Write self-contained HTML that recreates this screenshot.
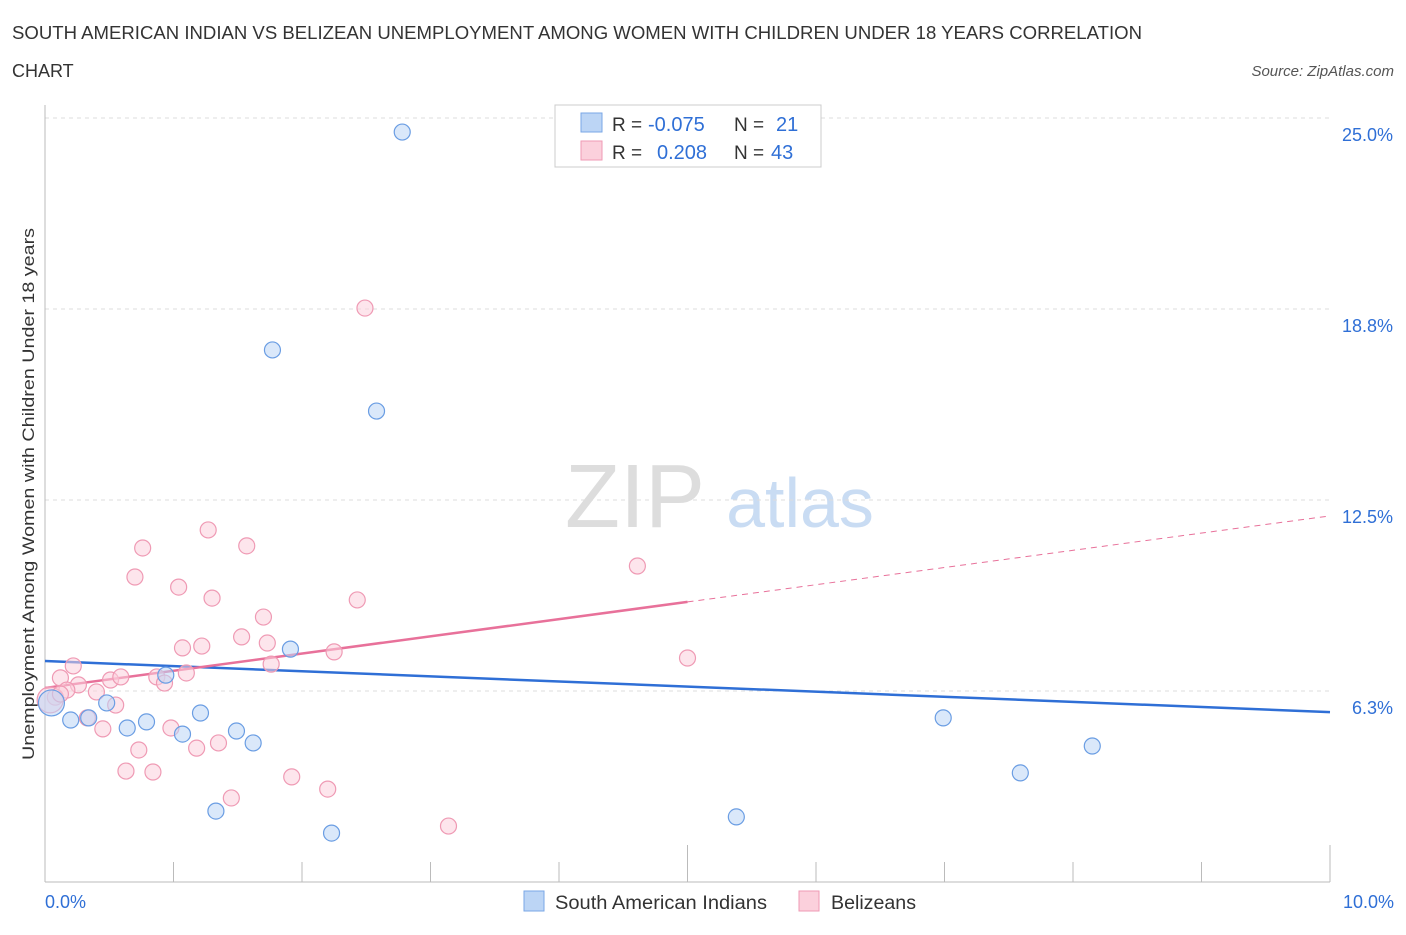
<!DOCTYPE html>
<html><head><meta charset="utf-8"><style>
body{margin:0;background:#fff;font-family:"Liberation Sans",sans-serif;}
svg text{font-family:"Liberation Sans",sans-serif;}
</style></head><body>
<svg width="1406" height="930" xmlns="http://www.w3.org/2000/svg">
<text x="12" y="39" font-size="18" fill="#333" textLength="1130" lengthAdjust="spacingAndGlyphs">SOUTH AMERICAN INDIAN VS BELIZEAN UNEMPLOYMENT AMONG WOMEN WITH CHILDREN UNDER 18 YEARS CORRELATION</text>
<text x="12" y="77" font-size="18" fill="#333">CHART</text>
<text x="1394" y="76" font-size="15" font-style="italic" fill="#555" text-anchor="end">Source: ZipAtlas.com</text>
<text x="635" y="527" font-size="90" font-family="Liberation Serif,serif" fill="#ddd" text-anchor="middle">ZIP</text>
<text x="800" y="527" font-size="70" fill="#c9dcf3" text-anchor="middle">atlas</text>
<g id="grid"></g>
<g id="axes"></g>
<g id="lines"></g>
<g id="pts"></g>
<text x="34" y="494" font-size="17" fill="#333" text-anchor="middle" textLength="532" lengthAdjust="spacingAndGlyphs" transform="rotate(-90 34 494)">Unemployment Among Women with Children Under 18 years</text>
<g>
<rect x="555" y="105" width="266" height="62" fill="#fff" stroke="#ccc"/>
<rect x="581" y="113" width="21" height="19" fill="#bcd5f5" stroke="#7aa7e6"/>
<rect x="581" y="141" width="21" height="19" fill="#fbd0dc" stroke="#ef9ab4"/>
<text x="612" y="131" font-size="19" fill="#333">R = </text><text x="648" y="131" font-size="20" fill="#2f6fd6">-0.075</text>
<text x="734" y="131" font-size="19" fill="#333">N = </text><text x="776" y="131" font-size="20" fill="#2f6fd6">21</text>
<text x="612" y="159" font-size="19" fill="#333">R = </text><text x="657" y="159" font-size="20" fill="#2f6fd6">0.208</text>
<text x="734" y="159" font-size="19" fill="#333">N = </text><text x="771" y="159" font-size="20" fill="#2f6fd6">43</text>
</g>
<g>
<rect x="524" y="891" width="20" height="20" fill="#bcd5f5" stroke="#7aa7e6"/>
<text x="555" y="909" font-size="19" fill="#333" textLength="212" lengthAdjust="spacingAndGlyphs">South American Indians</text>
<rect x="799" y="891" width="20" height="20" fill="#fbd0dc" stroke="#ef9ab4"/>
<text x="831" y="909" font-size="19" fill="#333" textLength="85" lengthAdjust="spacingAndGlyphs">Belizeans</text>
</g>
</svg>
<script>
const blueX=[2.78,1.77,2.58,1.91,0.94,0.48,0.05,0.20,0.34,0.64,0.79,1.07,1.21,1.49,1.62,1.33,2.23,5.38,6.99,7.59,8.15];
const blueY=[24.54,17.41,15.41,7.62,6.77,5.86,5.86,5.30,5.37,5.04,5.24,4.84,5.53,4.94,4.55,2.32,1.60,2.13,5.37,3.57,4.45];
const pinkX=[2.49,1.27,0.76,1.57,0.70,1.04,1.30,2.43,4.61,1.70,1.53,1.73,1.07,1.22,2.25,1.76,5.00,0.22,1.10,0.87,0.93,0.12,0.51,0.59,0.26,0.40,0.17,0.08,0.55,0.33,0.45,0.98,0.73,1.18,1.35,0.63,0.84,1.92,1.45,2.20,3.14,0.04,0.12];
const pinkY=[18.78,11.52,10.93,11.00,9.98,9.65,9.29,9.23,10.34,8.67,8.02,7.82,7.66,7.72,7.53,7.13,7.33,7.07,6.84,6.71,6.51,6.68,6.61,6.71,6.45,6.22,6.28,6.05,5.79,5.37,5.01,5.04,4.32,4.38,4.55,3.63,3.60,3.44,2.75,3.04,1.83,5.96,6.15];
const blueTrend=[7.23,5.56];
const pinkTrend=[6.35,11.98];
const pinkSolidEnd=5.0;
const yTicks=[6.25,12.5,18.75,25];
const yTickLabels=["6.3%","12.5%","18.8%","25.0%"];
const xTicks=[0,1,2,3,4,5,6,7,8,9,10];
const NS="http://www.w3.org/2000/svg";
const sx=v=>45+v*128.5, sy=v=>882-v*191/6.25;
function mk(tag,attrs,parent){const e=document.createElementNS(NS,tag);for(const k in attrs)e.setAttribute(k,attrs[k]);document.getElementById(parent).appendChild(e);return e;}
yTicks.forEach((t,i)=>{
 const l=mk('line',{x1:45,x2:1330,y1:sy(t),y2:sy(t),stroke:'#ddd','stroke-dasharray':'4,4'},'grid');
 
 
 const tx=mk('text',{x:1393,y:sy(t)+23,'font-size':18,fill:'#2f6fd6','text-anchor':'end'},'grid');
 tx.textContent=yTickLabels[i];
 
 
});
const ax=mk('line',{x1:45,x2:45,y1:105,y2:882,stroke:'#bbb'},'axes');


const bx=mk('line',{x1:45,x2:1330,y1:882,y2:882,stroke:'#bbb'},'axes');


xTicks.forEach(t=>{const l=mk('line',{x1:sx(t),x2:sx(t),y1:882,y2:t%5==0?845:862,stroke:'#bbb'},'axes');
 
 });
[[0,"0.0%",'start',45],[10,"10.0%",'end',1394]].forEach(a=>{const t=mk('text',{x:a[3],y:908,'font-size':18,fill:'#2f6fd6','text-anchor':a[2]},'axes');t.textContent=a[1];
 
 });
function ptsDraw(X,Y,fill,stroke,name){X.forEach((x,i)=>{const c=mk('circle',{cx:sx(x),cy:sy(Y[i]),r:(x<0.07?13:8),fill:fill,'fill-opacity':0.55,stroke:stroke,'stroke-width':1.2},'pts');
 
 });}
ptsDraw(pinkX,pinkY,'#fbd0dc','#ef9ab4','belizean-point');
ptsDraw(blueX,blueY,'#bcd5f5','#6a9de3','south-american-indian-point');
const bl=mk('line',{x1:sx(0),y1:sy(blueTrend[0]),x2:sx(10),y2:sy(blueTrend[1]),stroke:'#2f6fd6','stroke-width':2.5},'lines');


const pm=pinkTrend[0]+(pinkTrend[1]-pinkTrend[0])*pinkSolidEnd/10;
const pl=mk('line',{x1:sx(0),y1:sy(pinkTrend[0]),x2:sx(pinkSolidEnd),y2:sy(pm),stroke:'#e8719a','stroke-width':2.5},'lines');


const pd=mk('line',{x1:sx(pinkSolidEnd),y1:sy(pm),x2:sx(10),y2:sy(pinkTrend[1]),stroke:'#e8719a','stroke-width':1,'stroke-dasharray':'6,5'},'lines');


</script>
</body></html>
